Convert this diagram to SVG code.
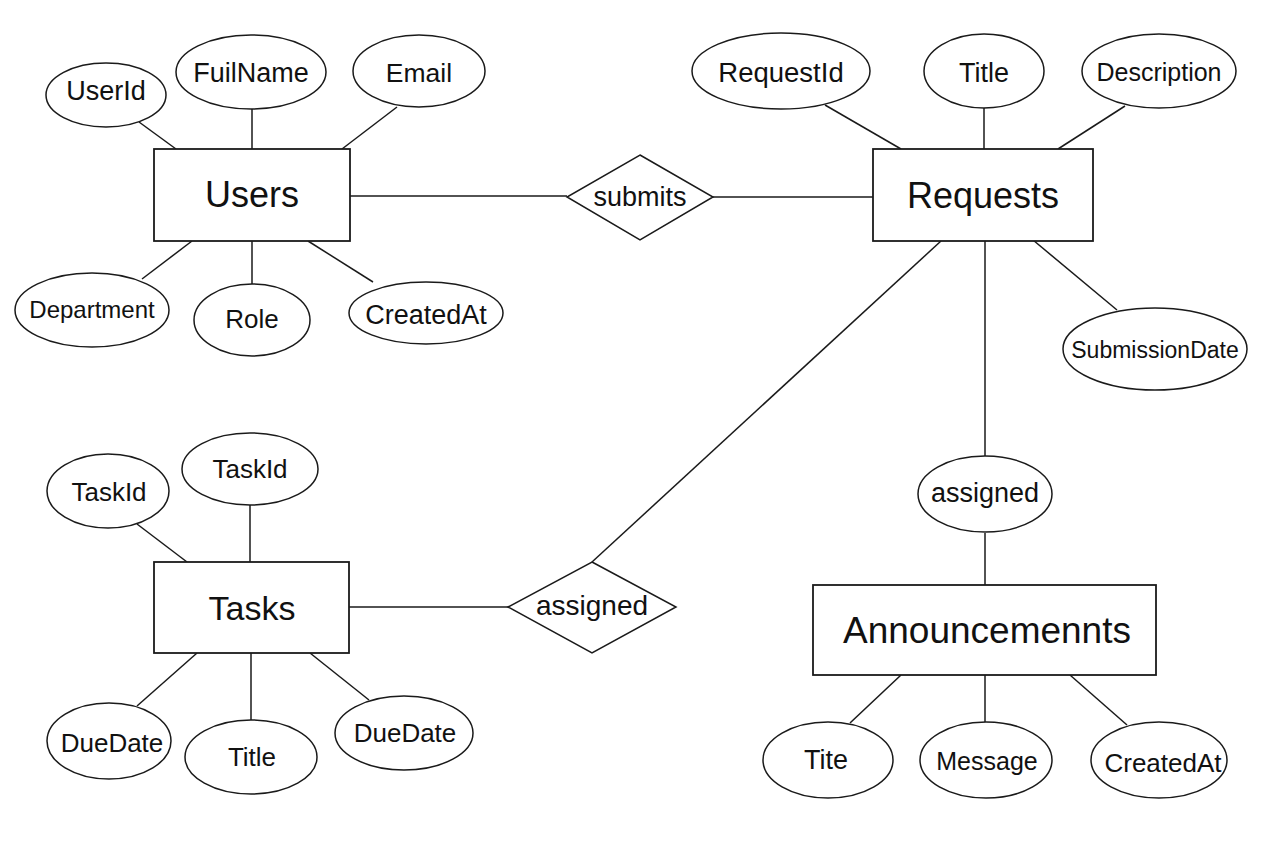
<svg xmlns="http://www.w3.org/2000/svg" width="1280" height="853" viewBox="0 0 1280 853">
<style>
.bg{fill:#ffffff}
.ent{fill:#ffffff;stroke:#1a1a1a;stroke-width:1.8}
.att{fill:#ffffff;stroke:#1a1a1a;stroke-width:1.5}
.rel{fill:#ffffff;stroke:#1a1a1a;stroke-width:1.5}
.ln{stroke:#1a1a1a;stroke-width:1.5;fill:none}
text{font-family:"Liberation Sans",Arial,sans-serif;fill:#111111;text-anchor:middle}
.et{font-size:36px}
.at{font-size:26px}
</style>
<rect class="bg" x="0" y="0" width="1280" height="853"/>
<g id="connectors">
<line class="ln" x1="139" y1="122" x2="176" y2="149"/>
<line class="ln" x1="252" y1="109" x2="252" y2="149"/>
<line class="ln" x1="397" y1="107" x2="342" y2="149"/>
<line class="ln" x1="192" y1="241" x2="142" y2="279"/>
<line class="ln" x1="252" y1="241" x2="252" y2="284"/>
<line class="ln" x1="308" y1="241" x2="373" y2="282"/>
<line class="ln" x1="350" y1="196" x2="567" y2="196"/>
<line class="ln" x1="713" y1="197" x2="873" y2="197"/>
<line class="ln" x1="825" y1="105" x2="901" y2="149"/>
<line class="ln" x1="984" y1="107" x2="984" y2="149"/>
<line class="ln" x1="1125" y1="106" x2="1058" y2="149"/>
<line class="ln" x1="1033" y1="240" x2="1117" y2="310"/>
<line class="ln" x1="941" y1="241" x2="592" y2="562"/>
<line class="ln" x1="985" y1="241" x2="985" y2="456"/>
<line class="ln" x1="985" y1="533" x2="985" y2="585"/>
<line class="ln" x1="137" y1="524" x2="187" y2="562"/>
<line class="ln" x1="250" y1="505" x2="250" y2="562"/>
<line class="ln" x1="197" y1="653" x2="137" y2="706"/>
<line class="ln" x1="251" y1="653" x2="251" y2="720"/>
<line class="ln" x1="310" y1="653" x2="369" y2="700"/>
<line class="ln" x1="349" y1="607" x2="508" y2="607"/>
<line class="ln" x1="901" y1="675" x2="850" y2="723"/>
<line class="ln" x1="985" y1="675" x2="985" y2="722"/>
<line class="ln" x1="1070" y1="675" x2="1127" y2="725"/>
</g>
<g id="users">
<rect class="ent" x="154" y="149" width="196" height="92"/>
<text class="et" x="252" y="207">Users</text>
</g>
<g id="users-userid">
<ellipse class="att" cx="106" cy="95" rx="60" ry="32"/>
<text class="at" x="106" y="100" style="font-size:27px">UserId</text>
</g>
<g id="users-fullname">
<ellipse class="att" cx="251" cy="72" rx="75" ry="37"/>
<text class="at" x="251" y="82" style="font-size:27px">FuilName</text>
</g>
<g id="users-email">
<ellipse class="att" cx="419" cy="71" rx="66" ry="36"/>
<text class="at" x="419" y="82" style="font-size:26.5px">Email</text>
</g>
<g id="users-department">
<ellipse class="att" cx="92" cy="310" rx="77" ry="37"/>
<text class="at" x="92" y="318" style="font-size:24px">Department</text>
</g>
<g id="users-role">
<ellipse class="att" cx="252" cy="320" rx="58" ry="36"/>
<text class="at" x="252" y="328">Role</text>
</g>
<g id="users-createdat">
<ellipse class="att" cx="426" cy="313" rx="77" ry="31"/>
<text class="at" x="426" y="324" style="font-size:27px">CreatedAt</text>
</g>
<g id="submits">
<polygon class="rel" points="640,155 713,197 640,240 567,197"/>
<text class="at" x="640" y="206" style="font-size:27px">submits</text>
</g>
<g id="requests">
<rect class="ent" x="873" y="149" width="220" height="92"/>
<text class="et" x="983" y="208">Requests</text>
</g>
<g id="requests-requestid">
<ellipse class="att" cx="781" cy="71" rx="89" ry="38"/>
<text class="at" x="781" y="82" style="font-size:27.5px">RequestId</text>
</g>
<g id="requests-title">
<ellipse class="att" cx="984" cy="71" rx="60" ry="37"/>
<text class="at" x="984" y="82" style="font-size:27px">Title</text>
</g>
<g id="requests-description">
<ellipse class="att" cx="1159" cy="71" rx="77" ry="37"/>
<text class="at" x="1159" y="81" style="font-size:25px">Description</text>
</g>
<g id="requests-submissiondate">
<ellipse class="att" cx="1155" cy="349" rx="92" ry="41"/>
<text class="at" x="1155" y="358" style="font-size:23px">SubmissionDate</text>
</g>
<g id="assigned-announcements">
<ellipse class="att" cx="985" cy="494" rx="67" ry="38"/>
<text class="at" x="985" y="502" style="font-size:27px">assigned</text>
</g>
<g id="announcements">
<rect class="ent" x="813" y="585" width="343" height="90"/>
<text class="et" x="987" y="643" style="font-size:37px">Announcemennts</text>
</g>
<g id="announcements-tite">
<ellipse class="att" cx="828" cy="760" rx="65" ry="38"/>
<text class="at" x="826" y="769" style="font-size:27px">Tite</text>
</g>
<g id="announcements-message">
<ellipse class="att" cx="986" cy="760" rx="66" ry="38"/>
<text class="at" x="987" y="770" style="font-size:25px">Message</text>
</g>
<g id="announcements-createdat">
<ellipse class="att" cx="1159" cy="760" rx="68" ry="38"/>
<text class="at" x="1163" y="772" style="font-size:26px">CreatedAt</text>
</g>
<g id="tasks">
<rect class="ent" x="154" y="562" width="195" height="91"/>
<text class="et" x="252" y="620" style="font-size:34px">Tasks</text>
</g>
<g id="tasks-taskid-1">
<ellipse class="att" cx="108" cy="491" rx="61" ry="37"/>
<text class="at" x="109" y="501">TaskId</text>
</g>
<g id="tasks-taskid-2">
<ellipse class="att" cx="250" cy="469" rx="68" ry="36"/>
<text class="at" x="250" y="478">TaskId</text>
</g>
<g id="tasks-duedate-1">
<ellipse class="att" cx="109" cy="741" rx="62" ry="38"/>
<text class="at" x="112" y="752">DueDate</text>
</g>
<g id="tasks-title">
<ellipse class="att" cx="251" cy="757" rx="66" ry="37"/>
<text class="at" x="252" y="766">Title</text>
</g>
<g id="tasks-duedate-2">
<ellipse class="att" cx="404" cy="733" rx="69" ry="37"/>
<text class="at" x="405" y="742">DueDate</text>
</g>
<g id="assigned-tasks">
<polygon class="rel" points="592,562 676,607 592,653 508,607"/>
<text class="at" x="592" y="615" style="font-size:28px">assigned</text>
</g>
</svg>
